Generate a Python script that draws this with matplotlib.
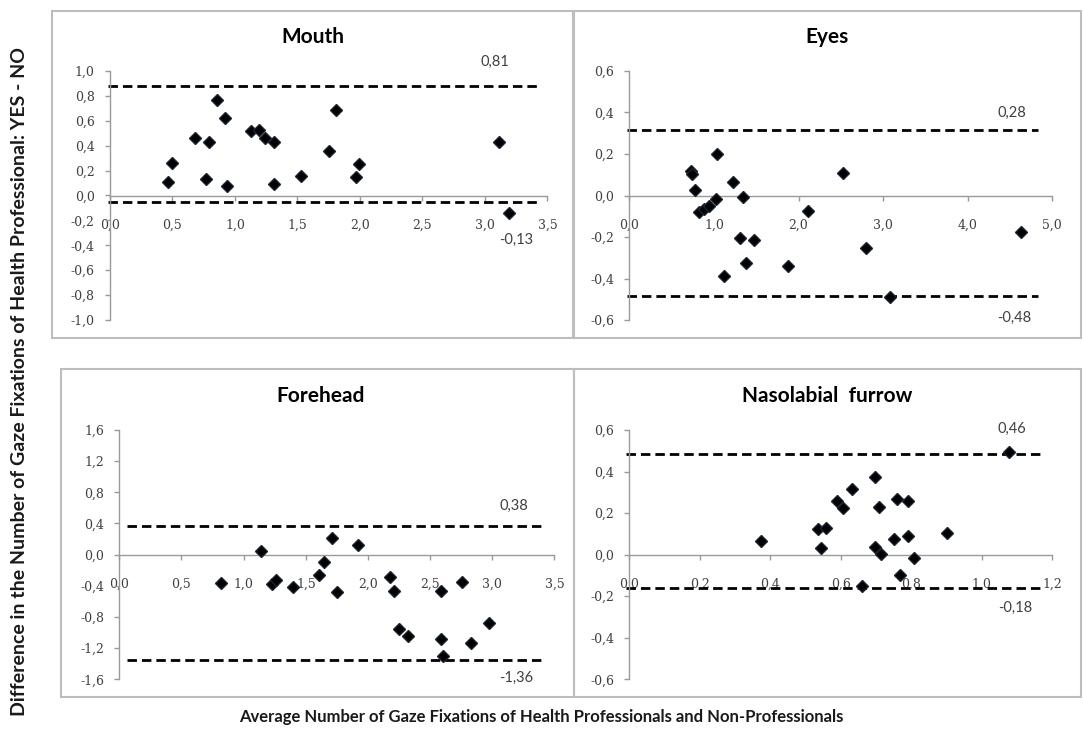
import matplotlib
matplotlib.use("Agg")
import matplotlib.pyplot as plt
from matplotlib.patches import Rectangle
from matplotlib.ticker import FuncFormatter, MultipleLocator

# Данные (Bland-Altman)
mouth_x = [0.46, 0.50, 0.68, 0.77, 0.79, 0.86, 0.92, 0.94, 1.13, 1.19,
           1.24, 1.31, 1.31, 1.53, 1.75, 1.81, 1.97, 1.99, 3.11, 3.19]
mouth_y = [0.11, 0.26, 0.46, 0.13, 0.43, 0.77, 0.62, 0.08, 0.52, 0.53,
           0.46, 0.43, 0.09, 0.16, 0.36, 0.69, 0.15, 0.25, 0.43, -0.14]
mouth_limits = [0.88, -0.05]
mouth_labels = ["0,81", "-0,13"]

eyes_x = [0.73, 0.74, 0.78, 0.82, 0.88, 0.94, 1.02, 1.04, 1.12, 1.22,
          1.31, 1.34, 1.38, 1.47, 1.87, 2.11, 2.53, 2.80, 3.08, 4.63]
eyes_y = [0.117, 0.106, 0.026, -0.079, -0.067, -0.051, -0.019, 0.202, -0.386, 0.064,
          -0.206, -0.008, -0.326, -0.215, -0.341, -0.077, 0.109, -0.254, -0.488, -0.177]
eyes_limits = [0.318, -0.485]
eyes_labels = ["0,28", "-0,48"]

forehead_x = [0.82, 1.14, 1.23, 1.26, 1.40, 1.61, 1.65, 1.71, 1.75, 1.92,
              2.18, 2.21, 2.25, 2.32, 2.59, 2.59, 2.60, 2.76, 2.83, 2.97]
forehead_y = [-0.36, 0.05, -0.38, -0.32, -0.41, -0.26, -0.10, 0.22, -0.48, 0.12,
              -0.29, -0.47, -0.95, -1.05, -0.47, -1.08, -1.30, -0.35, -1.13, -0.88]
forehead_limits = [0.372, -1.352]
forehead_labels = ["0,38", "-1,36"]

naso_x = [0.375, 0.536, 0.558, 0.545, 0.589, 0.605, 0.632, 0.660, 0.697, 0.697,
          0.709, 0.715, 0.750, 0.760, 0.767, 0.791, 0.792, 0.807, 0.901, 1.076]
naso_y = [0.066, 0.122, 0.127, 0.034, 0.258, 0.226, 0.315, -0.149, 0.374, 0.039,
          0.231, 0.005, 0.075, 0.266, -0.098, 0.258, 0.090, -0.016, 0.106, 0.494]
naso_limits = [0.483, -0.162]
naso_labels = ["0,46", "-0,18"]

W, H = 1083, 735
fig = plt.figure(figsize=(W / 100, H / 100), dpi=100)

# рамки панелей
for x0, x1, y0, y1 in [(52, 573, 11, 338), (574, 1081, 11, 338),
                       (61, 574, 369, 697), (574, 1081, 369, 697)]:
    fig.add_artist(Rectangle((x0 / W, 1 - y1 / H), (x1 - x0) / W, (y1 - y0) / H,
                             transform=fig.transFigure, fill=False,
                             edgecolor="#bdbdbd", linewidth=1.5))

comma = FuncFormatter(lambda v, p: f"{v:.1f}".replace(".", ",").replace("\u2212", "-"))


def panel(box, title, title_xy, xs, ys, xlim, xstep, ylim, ystep,
          limits, labels, line_span, label_pos):
    x0, x1, yt, yb = box
    ax = fig.add_axes([x0 / W, 1 - yb / H, (x1 - x0) / W, (yb - yt) / H])
    ax.set_xlim(*xlim)
    ax.set_ylim(*ylim)
    ax.patch.set_alpha(0)
    for s in ["top", "right"]:
        ax.spines[s].set_visible(False)
    ax.spines["bottom"].set_position(("data", 0))
    for s in ["left", "bottom"]:
        ax.spines[s].set_color("#9a9a9a")
        ax.spines[s].set_linewidth(1.0)
    ax.xaxis.set_major_locator(MultipleLocator(xstep))
    ax.yaxis.set_major_locator(MultipleLocator(ystep))
    ax.xaxis.set_major_formatter(comma)
    ax.yaxis.set_major_formatter(comma)
    ax.tick_params(axis="both", direction="out", length=3.5, width=1.0,
                   color="#9a9a9a", labelcolor="#404040", labelsize=10)
    ax.tick_params(axis="x", pad=13)
    ax.tick_params(axis="y", pad=7.5)
    for lab in ax.get_xticklabels() + ax.get_yticklabels():
        lab.set_family("DejaVu Serif")
        lab.set_fontsize(9)

    for val in limits:
        ax.plot(line_span, [val, val], color="black", linewidth=2.0,
                linestyle=(0, (3.4, 1.8)), clip_on=False, zorder=2)
    ax.plot(xs, ys, linestyle="none", marker="D", markersize=5.7,
            color="black", markeredgecolor="#1a2433", clip_on=False, zorder=3)
    for txt, (tx, ty) in zip(labels, label_pos):
        ax.text(tx, ty, txt, ha="center", va="center", fontsize=10.5,
                color="#404040", family="Lato")
    fig.text(title_xy[0] / W, 1 - title_xy[1] / H, title, ha="center", va="center",
             fontsize=15, fontweight="bold", family="Lato", color="black")
    return ax


panel((110, 547.5, 71, 320), "Mouth", (313, 37), mouth_x, mouth_y,
      (0, 3.5), 0.5, (-1.0, 1.0), 0.2, mouth_limits, mouth_labels,
      [-0.02, 3.42], [(3.08, 1.07), (3.25, -0.36)])
panel((629.3, 1052.3, 71, 320), "Eyes", (827, 37), eyes_x, eyes_y,
      (0, 5.0), 1.0, (-0.6, 0.6), 0.2, eyes_limits, eyes_labels,
      [-0.03, 4.83], [(4.52, 0.40), (4.55, -0.588)])
panel((119.3, 554.5, 430, 679.3), "Forehead", (321, 396), forehead_x, forehead_y,
      (0, 3.5), 0.5, (-1.6, 1.6), 0.4, forehead_limits, forehead_labels,
      [0.06, 3.40], [(3.17, 0.62), (3.19, -1.58)])
panel((629.3, 1052.3, 430, 679.3), "Nasolabial  furrow", (827, 396), naso_x, naso_y,
      (0, 1.2), 0.2, (-0.6, 0.6), 0.2, naso_limits, naso_labels,
      [-0.01, 1.165], [(1.086, 0.605), (1.094, -0.257)])

fig.text(20 / W, 1 - 382 / H,
         "Difference in the Number of Gaze Fixations of Health Professional: YES - NO",
         rotation=90, ha="center", va="center", fontsize=14, fontweight="bold",
         family="Lato", color="#1a1a1a")
fig.text(541 / W, 1 - 717 / H,
         "Average Number of Gaze Fixations of Health Professionals and Non-Professionals",
         ha="center", va="center", fontsize=12, fontweight="bold",
         family="Lato", color="#1a1a1a")

fig.savefig("out.png", dpi=100)
